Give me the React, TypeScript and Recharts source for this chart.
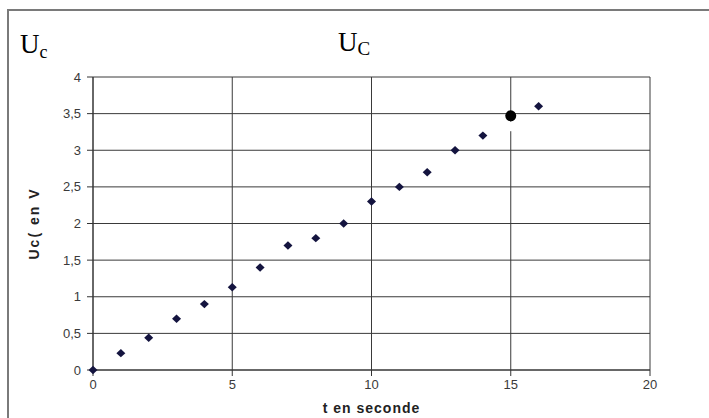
import React from 'react';
import { ScatterChart, Scatter, XAxis, YAxis, CartesianGrid, ReferenceDot, ReferenceLine } from 'recharts';

const TIMES = [0, 1, 2, 3, 4, 5, 6, 7, 8, 9, 10, 11, 12, 13, 14, 16];
const UC_VALUES = [0, 0.23, 0.44, 0.7, 0.9, 1.13, 1.4, 1.7, 1.8, 2.0, 2.3, 2.5, 2.7, 3.0, 3.2, 3.6];
const X_TICKS = [0, 5, 10, 15, 20];
const Y_TICKS = [0, 0.5, 1, 1.5, 2, 2.5, 3, 3.5, 4];
const MARKED_POINT = { t: 15, uc: 3.47 };

const W = 709;
const H = 418;

const data = TIMES.map((t, i) => ({ t, uc: UC_VALUES[i] }));

// diamond marker, a bit wider than the d3 one
const Diamond = (props: any) => {
    const { cx, cy } = props;
    if (cx == null || cy == null) return null;
    return <path d={`M${cx - 4.5},${cy} L${cx},${cy - 4.2} L${cx + 4.5},${cy} L${cx},${cy + 4.2} Z`} fill="#14143f" />;
};

const fmt = (v: number) => String(v).replace('.', ',');

const tickStyle = { fontFamily: 'Liberation Sans, Arial, sans-serif', fontSize: 13, fill: '#3a3a3a' };
const axisLabelStyle = { fontFamily: 'Liberation Sans, Arial, sans-serif', fontSize: 14, fontWeight: 'bold' as const, fill: '#222', letterSpacing: 1 };

const App: React.FC = () => {
    return (
        <div style={{ position: 'absolute', left: 0, top: 0, width: W, height: H, background: '#fff', overflow: 'hidden' }}>
            {/* frame of the original picture */}
            <div style={{ position: 'absolute', left: 7, top: 9, width: W, height: H, borderTop: '2px solid #7a7a7a', borderLeft: '2px solid #7a7a7a' }} />

            <div style={{ position: 'absolute', left: 20, top: 29, fontFamily: 'Liberation Serif, Times New Roman, serif', fontSize: 27, color: '#000' }}>
                U<span style={{ fontSize: 18, position: 'relative', top: 5 }}>c</span>
            </div>
            <div style={{ position: 'absolute', left: 338, top: 27, fontFamily: 'Liberation Serif, Times New Roman, serif', fontSize: 27, color: '#000' }}>
                U<span style={{ fontSize: 19, position: 'relative', top: 4 }}>C</span>
            </div>

            <div style={{ position: 'absolute', left: 0, top: 0 }}>
                <ScatterChart width={W} height={H} margin={{ top: 77, right: 59, bottom: 0, left: 0 }}>
                    <CartesianGrid stroke="#3a3a3a" strokeWidth={1} />
                    <XAxis
                        type="number"
                        dataKey="t"
                        domain={[0, 20]}
                        ticks={X_TICKS}
                        height={48}
                        stroke="#333"
                        tick={tickStyle}
                        tickSize={6}
                        tickMargin={4}
                        label={{
                            value: 't en seconde',
                            content: (p: any) => {
                                const vb = p.viewBox;
                                return (
                                    <text x={vb.x + vb.width / 2} y={408} textAnchor="middle" dominantBaseline="central" style={axisLabelStyle}>
                                        t en seconde
                                    </text>
                                );
                            },
                        }}
                    />
                    <YAxis
                        type="number"
                        dataKey="uc"
                        domain={[0, 4]}
                        ticks={Y_TICKS}
                        width={93}
                        stroke="#333"
                        tick={tickStyle}
                        tickFormatter={fmt}
                        tickSize={6}
                        tickMargin={6}
                        label={{
                            value: 'Uc( en V',
                            content: (p: any) => {
                                const vb = p.viewBox;
                                const cx = 34;
                                const cy = vb.y + vb.height / 2;
                                return (
                                    <text x={cx} y={cy} transform={`rotate(-90 ${cx} ${cy})`} textAnchor="middle" dominantBaseline="central" style={{ ...axisLabelStyle, letterSpacing: 2 }}>
                                        Uc( en V
                                    </text>
                                );
                            },
                        }}
                    />
                    <Scatter data={data} shape={<Diamond />} isAnimationActive={false} />
                    <ReferenceLine segment={[{ x: 15, y: 3.39 }, { x: 15, y: 3.26 }]} stroke="#fff" strokeWidth={4} />
                    <ReferenceDot x={MARKED_POINT.t} y={MARKED_POINT.uc} r={5.5} fill="#000" stroke="none" />
                </ScatterChart>
            </div>
        </div>
    );
};

export default App;
